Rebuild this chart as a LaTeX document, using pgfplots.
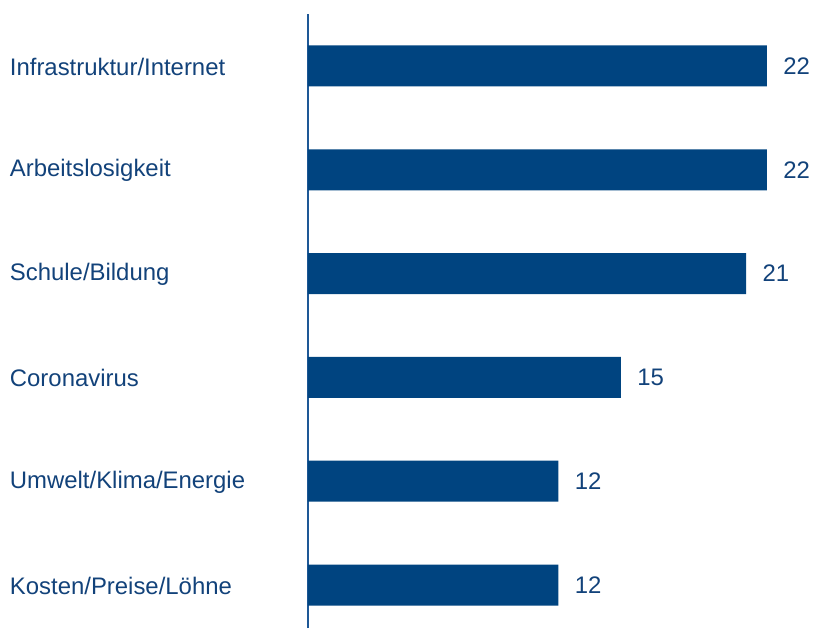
\documentclass[border=0pt]{standalone}
\usepackage{pgfplots}
\pgfplotsset{compat=1.18}
\usepackage{fontspec}
\setmainfont{Liberation Sans}
\definecolor{barblue}{RGB}{0,68,128}
\definecolor{txtblue}{RGB}{18,66,122}
\definecolor{axblue}{RGB}{30,88,150}

\begin{document}
\begin{tikzpicture}
\useasboundingbox (-308bp,-2bp) rectangle (506bp,628bp);
\begin{axis}[
    scale only axis,
    x=20.86bp,
    width=500bp, height=614bp,
    xmin=0, xmax=24,
    ymin=-0.414, ymax=5.501,
    axis lines*=left,
    x axis line style={draw=none},
    y axis line style={draw=axblue, line width=2bp, -},
    xtick=\empty,
    ytick={0,1,2,3,4,5},
    yticklabels={Kosten/Preise/Löhne, Umwelt/Klima/Energie, Coronavirus, Schule/Bildung, Arbeitslosigkeit, Infrastruktur/Internet},
    ytick style={draw=none},
    yticklabel style={anchor=west, xshift=-294bp, yshift=-1bp, inner xsep=0pt,
        font=\fontsize{24}{28}\selectfont, text=txtblue},
    xbar,
    bar width=41bp,
    nodes near coords,
    /pgf/number format/assume math mode=true,
    every node near coord/.append style={anchor=west, xshift=13bp,
        font=\fontsize{24}{28}\selectfont, text=txtblue},
    clip=false,
]
\addplot[fill=barblue, draw=none] coordinates {
    (12,0) (12,1) (15,2) (21,3) (22,4) (22,5)};
\end{axis}
\end{tikzpicture}
\end{document}
